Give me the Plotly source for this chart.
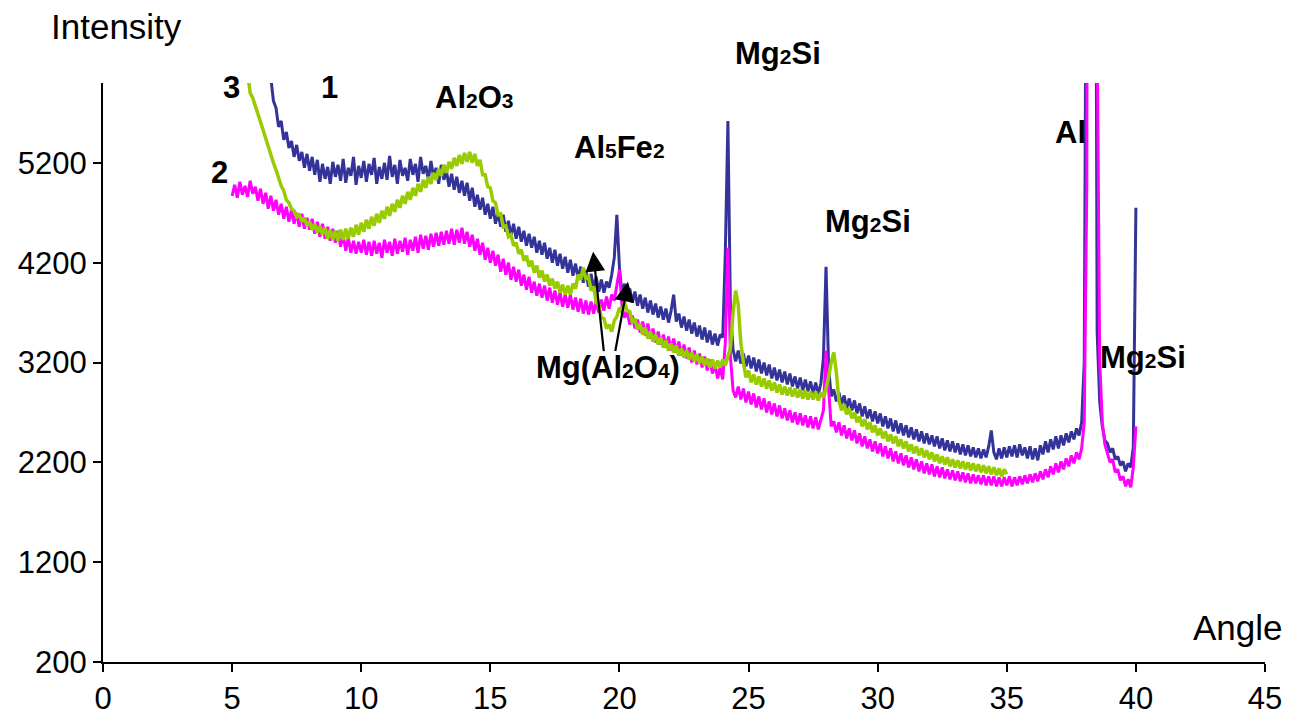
import plotly.graph_objects as go

# ---------------- data (intensity, step 0.1 deg) ----------------
step = 0.1
start_1 = 6.5
start_2 = 5.0
start_3 = 5.6

curve_1 = [
    6050, 5820, 5750, 5560, 5620,
    5430, 5510, 5350, 5420, 5260, 5380, 5220, 5310, 5150, 5290,
    5120, 5260, 5080, 5230, 5010, 5190, 5040, 5160, 4990, 5210,
    5060, 5180, 5020, 5240, 5000, 5150, 5070, 5260, 4980, 5170,
    5050, 5220, 5010, 5190, 5080, 5250, 4990, 5160, 5040, 5200,
    5030, 5270, 5060, 5180, 4990, 5230, 5070, 5150, 5020, 5240,
    5080, 5190, 5010, 5260, 5090, 5170, 5030, 5220, 5060, 5150,
    4990, 5180, 5030, 5120, 4960, 5090, 4930, 5060, 4900, 5020,
    4870, 5000, 4820, 4950, 4760, 4880, 4730, 4850, 4680, 4790,
    4640, 4760, 4590, 4700, 4560, 4680, 4510, 4620, 4470, 4590,
    4440, 4560, 4410, 4520, 4370, 4490, 4350, 4460, 4300, 4420,
    4280, 4400, 4240, 4350, 4200, 4330, 4170, 4290, 4140, 4260,
    4100, 4230, 4070, 4190, 4040, 4160, 4000, 4120, 3960, 4090,
    3940, 4060, 3910, 4030, 3900, 4010, 3950, 4080, 4250, 4680,
    4150, 3880, 3990, 3830, 3940, 3800, 3910, 3770, 3880, 3740,
    3850, 3700, 3820, 3680, 3790, 3650, 3760, 3630, 3740, 3600,
    3720, 3880, 3610, 3690, 3550, 3660, 3520, 3630, 3490, 3600,
    3460, 3570, 3430, 3550, 3400, 3520, 3380, 3490, 3370, 3480,
    3450, 4300, 5620, 3700, 3330, 3210, 3320, 3190, 3290, 3160,
    3270, 3140, 3250, 3110, 3230, 3090, 3200, 3070, 3180, 3040,
    3150, 3020, 3130, 3000, 3110, 2980, 3090, 2960, 3060, 2940,
    3050, 2920, 3030, 2910, 3010, 2890, 3000, 2880, 2990, 3250,
    4160, 3150, 2860, 2930, 2810, 2900, 2780, 2870, 2740, 2840,
    2720, 2820, 2690, 2790, 2660, 2760, 2640, 2730, 2610, 2710,
    2590, 2690, 2560, 2660, 2540, 2640, 2510, 2620, 2490, 2590,
    2470, 2570, 2450, 2550, 2430, 2530, 2410, 2510, 2390, 2490,
    2380, 2470, 2360, 2460, 2340, 2440, 2320, 2420, 2310, 2410,
    2300, 2390, 2280, 2380, 2270, 2370, 2260, 2350, 2250, 2340,
    2240, 2330, 2250, 2360, 2520, 2300, 2230, 2340, 2240, 2350,
    2250, 2360, 2260, 2370, 2250, 2380, 2270, 2350, 2240, 2360,
    2230, 2340, 2220, 2370, 2280, 2410, 2300, 2430, 2330, 2460,
    2340, 2470, 2370, 2490, 2400, 2510, 2430, 2540, 2470, 2600,
    3200, 9000, 40000, 40000, 12000, 3500, 2800, 2560, 2420, 2390,
    2300, 2340, 2230, 2260, 2170, 2210, 2110, 2190, 2150, 2350,
    4750,
]

curve_2 = [
    4870, 4980, 4850, 5010, 4880, 4970, 4860, 5020, 4890, 4960,
    4820, 4940, 4790, 4900, 4740, 4870, 4720, 4830, 4680, 4790,
    4640, 4760, 4610, 4730, 4590, 4700, 4560, 4690, 4540, 4650,
    4530, 4640, 4490, 4610, 4460, 4590, 4440, 4560, 4420, 4540,
    4400, 4520, 4360, 4480, 4320, 4450, 4300, 4420, 4290, 4410,
    4300, 4430, 4280, 4410, 4270, 4420, 4290, 4400, 4250, 4430,
    4300, 4410, 4270, 4440, 4290, 4420, 4310, 4450, 4280, 4430,
    4320, 4460, 4300, 4480, 4340, 4470, 4330, 4490, 4360, 4500,
    4370, 4510, 4380, 4520, 4390, 4540, 4380, 4530, 4400, 4550,
    4390, 4510, 4360, 4480, 4320, 4440, 4280, 4400, 4230, 4350,
    4200, 4320, 4170, 4280, 4110, 4240, 4080, 4200, 4030, 4160,
    4010, 4130, 3970, 4080, 3930, 4060, 3900, 4010, 3870, 3990,
    3850, 3970, 3820, 3950, 3800, 3920, 3780, 3900, 3760, 3880,
    3750, 3880, 3730, 3850, 3710, 3840, 3690, 3820, 3680, 3810,
    3690, 3820, 3700, 3830, 3720, 3860, 3740, 3880, 3820, 3960,
    4130, 3760, 3650, 3710, 3580, 3670, 3540, 3630, 3500, 3610,
    3470, 3590, 3440, 3540, 3400, 3510, 3380, 3480, 3350, 3460,
    3320, 3440, 3300, 3410, 3270, 3380, 3240, 3350, 3200, 3320,
    3180, 3290, 3150, 3260, 3120, 3230, 3090, 3190, 3040, 3150,
    3030, 3400, 4350, 3250, 2920, 2850, 2960, 2830, 2940, 2800,
    2910, 2780, 2890, 2750, 2860, 2730, 2840, 2700, 2810, 2680,
    2790, 2660, 2770, 2640, 2740, 2620, 2720, 2600, 2700, 2580,
    2690, 2570, 2670, 2550, 2660, 2540, 2650, 2530, 2640, 2720,
    3320, 2880, 2560, 2610, 2500, 2600, 2470, 2570, 2440, 2540,
    2420, 2520, 2390, 2490, 2360, 2460, 2340, 2430, 2310, 2410,
    2290, 2390, 2260, 2360, 2240, 2340, 2210, 2310, 2190, 2290,
    2170, 2270, 2150, 2250, 2130, 2230, 2110, 2210, 2090, 2190,
    2080, 2180, 2060, 2160, 2050, 2150, 2040, 2130, 2030, 2120,
    2020, 2110, 2010, 2100, 2000, 2090, 1990, 2080, 1990, 2070,
    1980, 2070, 1970, 2060, 1970, 2060, 1960, 2050, 1960, 2050,
    1970, 2060, 1960, 2050, 1970, 2060, 1980, 2070, 1990, 2080,
    2000, 2090, 2010, 2110, 2030, 2130, 2050, 2160, 2080, 2190,
    2100, 2210, 2130, 2240, 2160, 2270, 2190, 2300, 2230, 2340,
    2600, 5000, 20000, 40000, 30000, 6500, 3200, 2600, 2380, 2290,
    2200, 2230, 2100, 2130, 2020, 2060, 1960, 2030, 1950, 2150,
    2560,
]

curve_3 = [
    6100, 5900, 5850, 5760,
    5700, 5610, 5530, 5440, 5360, 5280, 5200, 5130, 5040, 4970,
    4920, 4830, 4800, 4740, 4720, 4660, 4690, 4610, 4650, 4570,
    4610, 4530, 4590, 4500, 4570, 4480, 4550, 4440, 4530, 4430,
    4520, 4420, 4530, 4430, 4540, 4440, 4550, 4460, 4580, 4480,
    4600, 4510, 4630, 4540, 4660, 4570, 4690, 4600, 4720, 4640,
    4760, 4670, 4790, 4710, 4830, 4750, 4870, 4790, 4910, 4830,
    4950, 4870, 4990, 4910, 5030, 4950, 5060, 4990, 5100, 5030,
    5140, 5070, 5180, 5100, 5210, 5140, 5250, 5170, 5280, 5190,
    5300, 5210, 5310, 5200, 5290, 5170, 5230, 5080, 5080, 4960,
    4950, 4820, 4800, 4680, 4690, 4560, 4570, 4460, 4480, 4370,
    4400, 4290, 4330, 4220, 4270, 4160, 4220, 4100, 4170, 4050,
    4120, 4010, 4080, 3970, 4040, 3940, 4010, 3900, 3980, 3880,
    3970, 3880, 3990, 3940, 4080, 4030, 4150, 4040, 4060, 3920,
    3960, 3800, 3780, 3650, 3640, 3540, 3580, 3510, 3620, 3660,
    3750, 3700, 3800, 3720, 3710, 3600, 3640, 3530, 3590, 3480,
    3550, 3440, 3510, 3410, 3480, 3380, 3450, 3350, 3420, 3320,
    3390, 3300, 3370, 3270, 3340, 3250, 3320, 3230, 3300, 3210,
    3280, 3190, 3260, 3170, 3240, 3150, 3230, 3140, 3220, 3150,
    3230, 3170, 3260, 3350, 3700, 3920, 3780, 3400, 3200, 3050,
    3120, 3000, 3080, 2980, 3060, 2960, 3040, 2940, 3020, 2920,
    3000, 2900, 2980, 2880, 2960, 2870, 2950, 2860, 2940, 2850,
    2930, 2840, 2920, 2830, 2910, 2830, 2910, 2820, 2900, 2850,
    2940, 3050, 3200, 3300, 3100, 2820, 2720, 2780, 2680, 2740,
    2640, 2700, 2600, 2660, 2560, 2630, 2530, 2600, 2500, 2570,
    2470, 2540, 2440, 2510, 2410, 2480, 2390, 2460, 2360, 2430,
    2340, 2410, 2310, 2380, 2290, 2360, 2270, 2340, 2250, 2320,
    2230, 2300, 2210, 2280, 2190, 2260, 2180, 2250, 2160, 2230,
    2150, 2220, 2140, 2210, 2130, 2200, 2120, 2190, 2110, 2180,
    2100, 2170, 2090, 2160, 2080, 2150, 2070, 2140, 2060, 2130,
    2080,
]

series_names = ["1", "2", "3"]
series_colors = ["#333399", "#FF00FF", "#99CC00"]
series_widths = [3, 3, 3.5]

x_ticks = [0, 5, 10, 15, 20, 25, 30, 35, 40, 45]
y_ticks = [200, 1200, 2200, 3200, 4200, 5200]


def angles(start, n):
    return [round(start + step * i, 2) for i in range(n)]


fig = go.Figure()
for name, start, vals, col, w in zip(series_names, [start_1, start_2, start_3],
                                     [curve_1, curve_2, curve_3], series_colors,
                                     series_widths):
    fig.add_trace(go.Scatter(
        x=angles(start, len(vals)), y=vals, mode="lines", name=name,
        line=dict(color=col, width=w), showlegend=False,
    ))

FAM = "Arial, Liberation Sans, sans-serif"
BOLD = dict(family=FAM, size=31, color="black")
SUB = "<span style='font-size:21px'>%s</span>"

labels = [
    ("<b>1</b>", 8.79, 5950),
    ("<b>2</b>", 4.53, 5100),
    ("<b>3</b>", 4.96, 5950),
    ("<b>Al" + SUB % "2" + "O" + SUB % "3" + "</b>", 14.37, 5850),
    ("<b>Al" + SUB % "5" + "Fe" + SUB % "2" + "</b>", 20.02, 5350),
    ("<b>Mg" + SUB % "2" + "Si</b>", 29.63, 4610),
    ("<b>Al</b>", 37.45, 5500),
    ("<b>Mg" + SUB % "2" + "Si</b>", 40.28, 3250),
    ("<b>Mg(Al" + SUB % "2" + "O" + SUB % "4" + ")</b>", 19.56, 3150),
]
for txt, lx, ly in labels:
    fig.add_annotation(x=lx, y=ly, xref="x", yref="y", text=txt, showarrow=False,
                       font=BOLD, xanchor="center", yanchor="middle")

# label above the plot area (paper coordinates)
fig.add_annotation(x=(778 - 103) / 1162, y=(662 - 53) / 579, xref="paper", yref="paper",
                   text="<b>Mg" + SUB % "2" + "Si</b>", showarrow=False, font=BOLD,
                   xanchor="center", yanchor="middle")

# arrows for Mg(Al2O4)
arrows = [((19.40, 3300), (18.98, 4310)), ((19.83, 3300), (20.33, 4010))]
for (tx, ty), (hx, hy) in arrows:
    fig.add_annotation(x=hx, y=hy, ax=tx, ay=ty, xref="x", yref="y", axref="x", ayref="y",
                       text="", showarrow=True, arrowhead=2, arrowsize=1.8,
                       arrowwidth=2.2, arrowcolor="black")

AX = dict(family=FAM, size=35, color="black")
fig.add_annotation(x=(116 - 103) / 1162, y=(662 - 27) / 579, xref="paper", yref="paper",
                   text="Intensity", showarrow=False, font=AX,
                   xanchor="center", yanchor="middle")
fig.add_annotation(x=43.96, y=550, xref="x", yref="y", text="Angle", showarrow=False,
                   font=AX, xanchor="center", yanchor="middle")

# page body has an 8px margin: plot area lands at x 103..1265, y 83..662 on screen
fig.update_layout(
    width=1298, height=717,
    margin=dict(l=95, r=41, t=75, b=63),
    plot_bgcolor="white", paper_bgcolor="white",
    font=dict(family=FAM, size=31, color="black"),
    xaxis=dict(range=[0, 45], tickvals=x_ticks, ticks="outside", ticklen=8,
               tickwidth=2, tickcolor="black", showline=True, linecolor="black",
               linewidth=2, showgrid=False, zeroline=False, automargin=False,
               tickfont=dict(size=31)),
    yaxis=dict(range=[200, 6000], tickvals=y_ticks, ticks="outside", ticklen=8,
               tickwidth=2, tickcolor="black", showline=True, linecolor="black",
               linewidth=2, showgrid=False, zeroline=False, automargin=False,
               tickfont=dict(size=31)),
)

fig.write_html("out.html")
